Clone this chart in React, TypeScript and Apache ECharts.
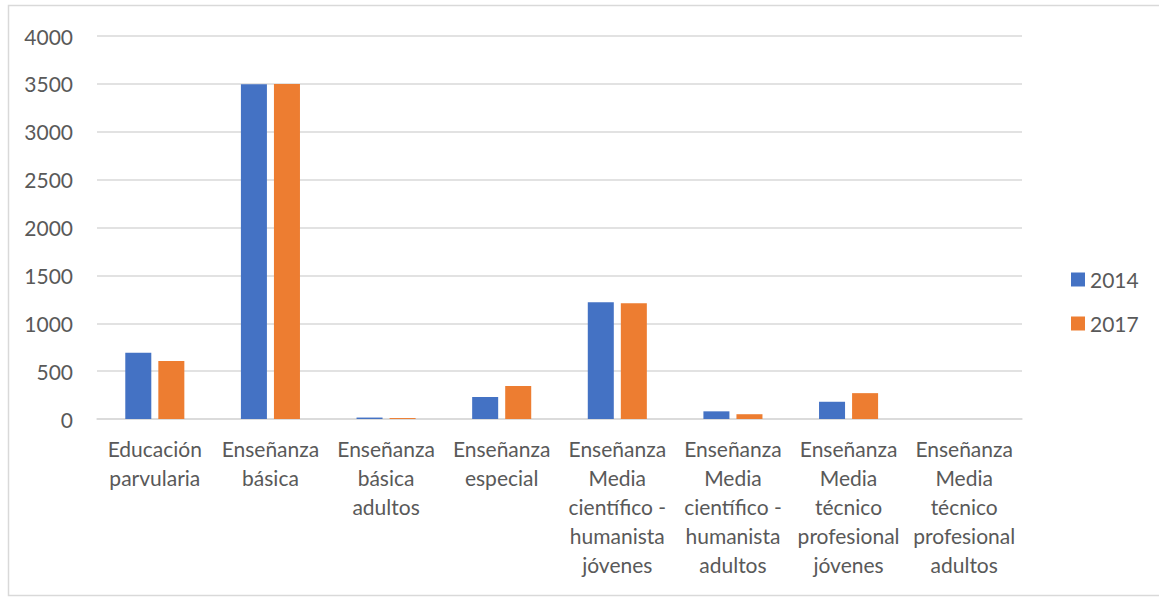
import React, { useEffect, useRef } from "react";
import * as echarts from "echarts";

const categories = [
  "Educación\nparvularia",
  "Enseñanza\nbásica",
  "Enseñanza\nbásica\nadultos",
  "Enseñanza\nespecial",
  "Enseñanza\nMedia\ncientífico -\nhumanista\njóvenes",
  "Enseñanza\nMedia\ncientífico -\nhumanista\nadultos",
  "Enseñanza\nMedia\ntécnico\nprofesional\njóvenes",
  "Enseñanza\nMedia\ntécnico\nprofesional\nadultos",
];
const seriesNames = ["2014", "2017"];
const values2014 = [692, 3495, 15, 230, 1220, 80, 180, 0];
const values2017 = [605, 3500, 10, 345, 1210, 50, 270, 0];
const yTicks = { min: 0, max: 4000, interval: 500 };

const FONT = "Lato, 'Open Sans', sans-serif";
const TEXT = "#595959";
const GRID = "#D9D9D9";
const FS = 21;

export default function App() {
  const ref = useRef<HTMLDivElement>(null);
  useEffect(() => {
    if (!ref.current) return;
    const chart = echarts.init(ref.current, null, { renderer: "svg" });
    chart.setOption({
      animation: false,
      backgroundColor: "#ffffff",
      textStyle: { fontFamily: FONT },
      graphic: [
        {
          type: "rect",
          shape: { x: 8.5, y: 5.5, width: 1160, height: 590 },
          style: { fill: "none", stroke: "#D9D9D9", lineWidth: 1.5 },
          silent: true,
        },
      ],
      grid: { left: 97, right: 137, top: 36, bottom: 178, containLabel: false },
      legend: {
        orient: "vertical",
        left: 1066,
        top: 264,
        itemWidth: 14,
        itemHeight: 14,
        itemGap: 23,
        icon: "rect",
        textStyle: { color: TEXT, fontSize: FS, fontFamily: FONT },
        data: seriesNames,
      },
      xAxis: {
        type: "category",
        data: categories,
        axisLine: { lineStyle: { color: GRID, width: 1.5 } },
        axisTick: { show: false },
        axisLabel: {
          color: TEXT,
          fontSize: FS,
          fontFamily: FONT,
          lineHeight: 29,
          margin: 15,
          interval: 0,
          align: "center",
          verticalAlign: "top",
        },
      },
      yAxis: {
        type: "value",
        min: yTicks.min,
        max: yTicks.max,
        interval: yTicks.interval,
        axisLine: { show: false },
        axisTick: { show: false },
        splitLine: { lineStyle: { color: GRID, width: 1.5 } },
        axisLabel: {
          color: TEXT,
          fontSize: FS,
          fontFamily: FONT,
          margin: 24,
          formatter: (v: number) => String(v),
        },
      },
      series: [
        {
          name: seriesNames[0],
          type: "bar",
          data: values2014,
          itemStyle: { color: "#4472C4" },
          barWidth: "22.5%",
          barGap: "27%",
        },
        {
          name: seriesNames[1],
          type: "bar",
          data: values2017,
          itemStyle: { color: "#ED7D31" },
          barWidth: "22.5%",
          barGap: "27%",
        },
      ],
    });
    return () => chart.dispose();
  }, []);
  return (
    <div
      ref={ref}
      style={{ position: "absolute", left: 0, top: 0, width: 1159, height: 597 }}
    />
  );
}
